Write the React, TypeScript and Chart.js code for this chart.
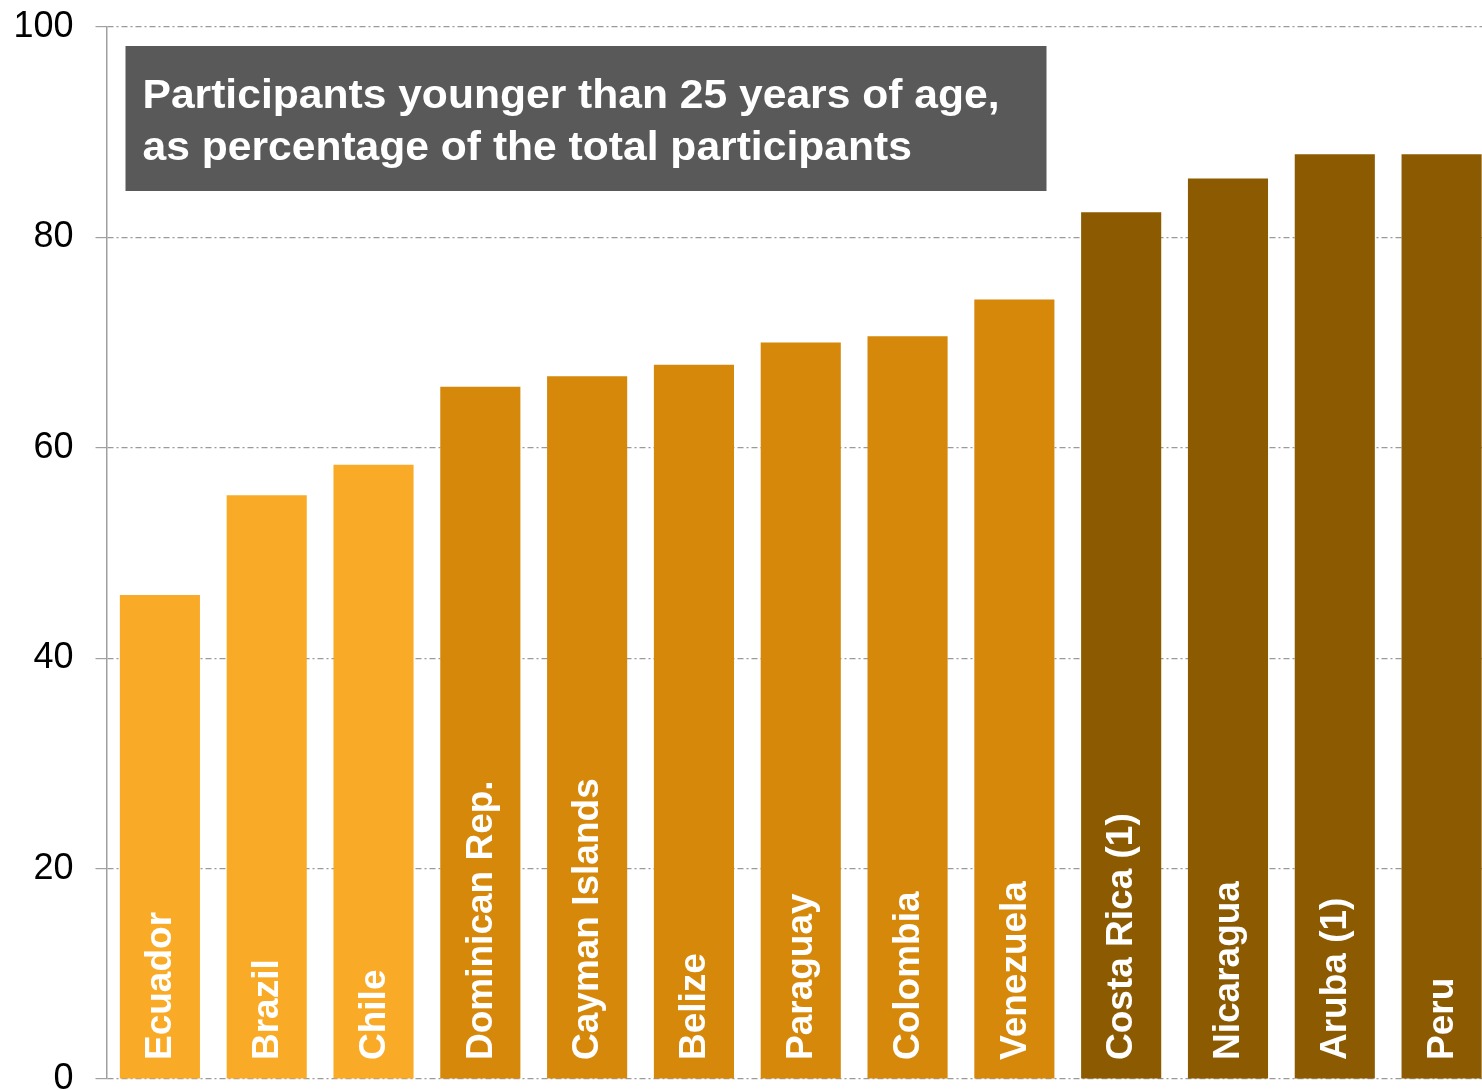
import React, { useEffect, useRef } from "react";
import { Chart, registerables } from "chart.js";

Chart.register(...registerables);

const categories = [
  "Ecuador",
  "Brazil",
  "Chile",
  "Dominican Rep.",
  "Cayman Islands",
  "Belize",
  "Paraguay",
  "Colombia",
  "Venezuela",
  "Costa Rica (1)",
  "Nicaragua",
  "Aruba (1)",
  "Peru",
];

const values = [46, 55.5, 58.4, 65.8, 66.8, 67.9, 70.0, 70.6, 74.1, 82.4, 85.6, 87.9, 87.9];

const groups = [0, 0, 0, 1, 1, 1, 1, 1, 1, 2, 2, 2, 2];
const groupColors = ["#F9AB27", "#D5880A", "#8C5A00"];

const titleLines = [
  "Participants younger than 25 years of age,",
  "as percentage of the total participants",
];

const yTicks = [0, 20, 40, 60, 80, 100];

const barLabelPlugin = {
  id: "barLabels",
  afterDatasetsDraw(chart: any) {
    const ctx = chart.ctx;
    const meta = chart.getDatasetMeta(0);
    const bottom = chart.chartArea.bottom;
    ctx.save();
    ctx.fillStyle = "#FFFFFF";
    ctx.font = "bold 37px 'Liberation Sans', Arial, sans-serif";
    ctx.textAlign = "left";
    ctx.textBaseline = "middle";
    meta.data.forEach((bar: any, i: number) => {
      ctx.save();
      ctx.translate(bar.x + 1, bottom - 19);
      ctx.rotate(-Math.PI / 2);
      ctx.fillText(categories[i], 0, 0);
      ctx.restore();
    });
    ctx.restore();
  },
};

const titlePlugin = {
  id: "titleBox",
  afterDraw(chart: any) {
    const ctx = chart.ctx;
    const left = chart.chartArea.left + 19;
    const top = chart.chartArea.top + 19;
    ctx.save();
    ctx.fillStyle = "#595959";
    ctx.fillRect(left, top, 921, 145);
    ctx.fillStyle = "#FFFFFF";
    ctx.font = "bold 41px 'Liberation Sans', Arial, sans-serif";
    ctx.textAlign = "left";
    ctx.textBaseline = "alphabetic";
    const w = ctx.measureText(titleLines[0]).width;
    const sx = 857 / w;
    titleLines.forEach((line, i) => {
      ctx.save();
      ctx.translate(left + 17, top + 62 + i * 52);
      ctx.scale(sx, 1);
      ctx.fillText(line, 0, 0);
      ctx.restore();
    });
    ctx.restore();
  },
};

export default function App() {
  const canvasRef = useRef<HTMLCanvasElement | null>(null);

  useEffect(() => {
    if (!canvasRef.current) return;
    const chart = new Chart(canvasRef.current, {
      type: "bar",
      data: {
        labels: categories,
        datasets: [
          {
            data: values,
            backgroundColor: groups.map((g) => groupColors[g]),
            borderWidth: 0,
            categoryPercentage: 1,
            barPercentage: 0.75,
          },
        ],
      },
      options: {
        responsive: false,
        animation: false,
        layout: { padding: { top: 27, bottom: 11, right: 1, left: 0 } },
        plugins: {
          legend: { display: false },
          tooltip: { enabled: false },
          title: { display: false },
        },
        scales: {
          x: {
            display: false,
          },
          y: {
            min: 0,
            max: 100,
            afterFit(scale: any) {
              scale.width = 106.5;
              scale.paddingTop = 0;
              scale.paddingBottom = 0;
            },
            afterBuildTicks(scale: any) {
              scale.ticks = yTicks.map((v) => ({ value: v }));
            },
            ticks: {
              color: "#000000",
              padding: 22,
              font: { family: "'Liberation Sans', Arial, sans-serif", size: 36, lineHeight: 0.1 },
            },
            border: { display: true, color: "#A0A0A0", width: 1.5, dash: [6, 3, 2, 3] },
            grid: {
              color: "#9A9A9A",
              lineWidth: 1.2,
              tickLength: 11,
              tickColor: "#A0A0A0",
              tickWidth: 1.2,
            } as any,
          },
        },
      },
      plugins: [barLabelPlugin, titlePlugin],
    });
    return () => chart.destroy();
  }, []);

  return (
    <div
      style={{
        position: "fixed",
        left: 0,
        top: 0,
        width: 1482,
        height: 1090,
        overflow: "hidden",
        background: "#FFFFFF",
      }}
    >
      <canvas ref={canvasRef} width={1496} height={1090} style={{ display: "block" }} />
    </div>
  );
}
